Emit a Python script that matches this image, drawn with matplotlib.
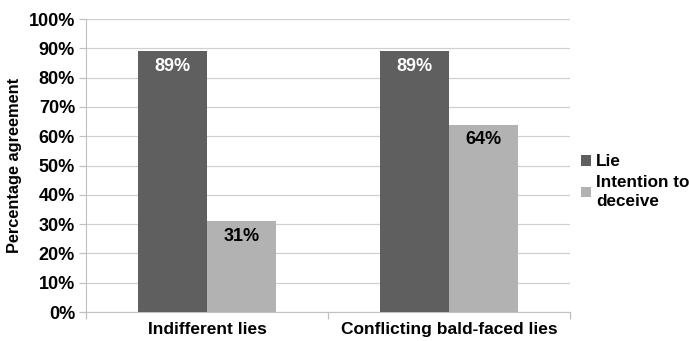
import matplotlib
matplotlib.use("Agg")
import matplotlib.pyplot as plt
import numpy as np

plt.rcParams['font.family'] = ['Liberation Sans', 'DejaVu Sans']
plt.rcParams['font.weight'] = 'bold'

categories = ["Indifferent lies", "Conflicting bald-faced lies"]
lie = [89, 89]
intention = [31, 64]
series_names = ["Lie", "Intention to\ndeceive"]

dark = "#5f5f5f"
light = "#b2b2b2"

fig = plt.figure(figsize=(6.89, 3.41), dpi=100)
ax = fig.add_axes([0.125, 0.085, 0.702, 0.859])

x = np.arange(len(categories))
w = 0.2857
b1 = ax.bar(x - w / 2, lie, w, color=dark, label=series_names[0], zorder=3)
b2 = ax.bar(x + w / 2, intention, w, color=light, label=series_names[1], zorder=3)

for rect, v in zip(b1, lie):
    ax.text(rect.get_x() + rect.get_width() / 2, v - 2.2, f"{v}%", ha="center", va="top",
            color="white", fontsize=13, fontweight="bold", zorder=4)
for rect, v in zip(b2, intention):
    ax.text(rect.get_x() + rect.get_width() / 2, v - 2.2, f"{v}%", ha="center", va="top",
            color="black", fontsize=13, fontweight="bold", zorder=4)

ax.set_xlim(-0.5, len(categories) - 0.5)
ax.set_ylim(0, 100)
ax.set_yticks(range(0, 101, 10))
ax.set_yticklabels([f"{t}%" for t in range(0, 101, 10)], fontsize=13, fontweight="bold")
ax.yaxis.grid(True, color="#d0d0d0", linewidth=0.9, zorder=0)

ax.set_xticks(x)
ax.set_xticklabels(categories, fontsize=12.5, fontweight="bold")
ax.tick_params(axis="x", length=0, pad=7)
ax.set_xticks(np.arange(-0.5, len(categories), 1), minor=True)
ax.tick_params(axis="x", which="minor", length=5, color="#c0c0c0", width=0.9)
ax.tick_params(axis="y", length=5, color="#c0c0c0", width=0.9, pad=3)

for s in ["top", "right"]:
    ax.spines[s].set_visible(False)
ax.spines["left"].set_color("#c0c0c0")
ax.spines["bottom"].set_color("#c0c0c0")

ax.set_ylabel("Percentage agreement", fontsize=11.8, fontweight="bold", labelpad=5)

leg = fig.legend(handles=[b1, b2], labels=series_names, loc="upper left",
                 bbox_to_anchor=(0.843, 0.547), frameon=False, fontsize=12.3,
                 handlelength=0.6, handleheight=0.6, handletextpad=0.3,
                 labelspacing=0.3, borderaxespad=0, borderpad=0)
for t in leg.get_texts():
    t.set_linespacing(1.4)

fig.savefig("out.png", dpi=100)
